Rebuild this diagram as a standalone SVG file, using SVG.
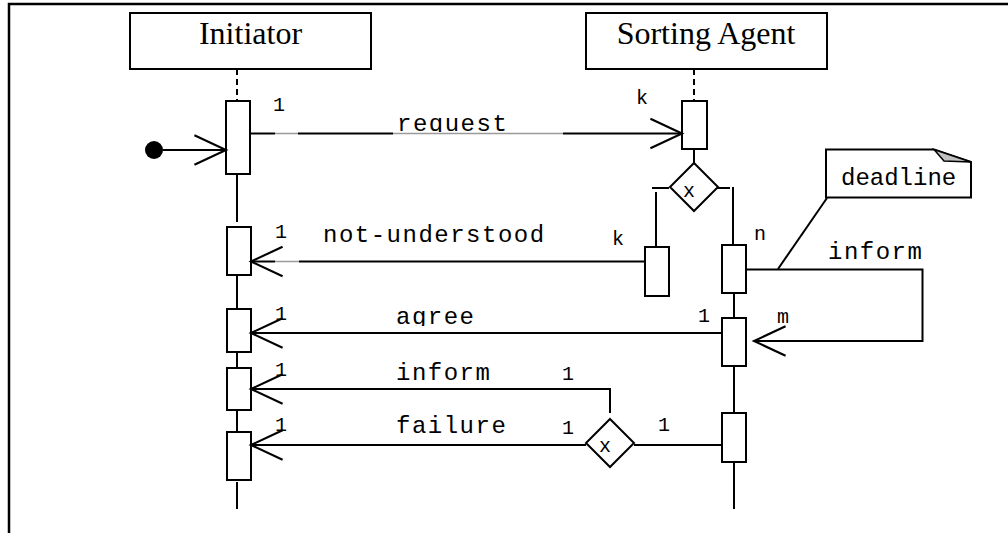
<svg xmlns="http://www.w3.org/2000/svg" width="1008" height="533" viewBox="0 0 1008 533">
<style>
.ln{stroke:#000;stroke-width:2;fill:none}
.gr{stroke:#9a9a9a;stroke-width:1.5;fill:none}
.box{stroke:#000;stroke-width:2;fill:#fff}
.act{stroke:#000;stroke-width:2;fill:#fff}
.dash{stroke:#000;stroke-width:2;stroke-dasharray:6 4;fill:none}
.hdr{font-family:"Liberation Serif","Times New Roman",serif;font-size:32px;fill:#000;text-anchor:middle}
.msg{font-family:"Liberation Mono","Courier New",monospace;font-size:24px;letter-spacing:1.5px;fill:#000}
.mul{font-family:"Liberation Mono","Courier New",monospace;font-size:20px;fill:#000}
</style>
<defs>
<marker id="open" markerUnits="userSpaceOnUse" markerWidth="40" markerHeight="40" viewBox="-34 -18 38 36" refX="0" refY="0" orient="auto">
<path d="M-30,-14 L0,0 L-30,14" fill="none" stroke="#000" stroke-width="2"/>
</marker>
<clipPath id="clipReq"><rect x="380" y="100" width="140" height="32"/></clipPath>
<clipPath id="clipAgr"><rect x="380" y="290" width="120" height="36"/></clipPath>
</defs>
<rect width="1008" height="533" fill="#fff"/>
<g id="frame">
<path d="M9,533 L9,4 L1008,4" stroke="#000" stroke-width="2.5" fill="none"/>
</g>
<g id="initiator">
<rect class="box" x="130" y="13" width="241" height="56"/>
<text class="hdr" x="250.5" y="44">Initiator</text>
<line class="dash" x1="237" y1="69" x2="237" y2="101"/>
<line class="ln" x1="237" y1="174" x2="237" y2="222"/>
<line class="ln" x1="237" y1="275" x2="237" y2="309"/>
<line class="ln" x1="237" y1="352" x2="237" y2="368"/>
<line class="ln" x1="237" y1="410" x2="237" y2="432"/>
<line class="ln" x1="237" y1="482" x2="237" y2="509"/>
<rect class="act" x="226" y="101" width="24" height="73"/>
<rect class="act" x="227" y="227" width="24" height="48"/>
<rect class="act" x="227" y="309" width="24" height="43"/>
<rect class="act" x="227" y="368" width="24" height="42"/>
<rect class="act" x="227" y="432" width="24" height="48"/>
</g>
<g id="sorting-agent">
<rect class="box" x="586" y="13" width="241" height="56"/>
<text class="hdr" x="706" y="44">Sorting Agent</text>
<line class="dash" x1="694" y1="69" x2="694" y2="101"/>
<line class="ln" x1="694" y1="149" x2="694" y2="163"/>
<line class="ln" x1="717" y1="188" x2="730" y2="188"/>
<line class="ln" x1="733" y1="187" x2="733" y2="245"/>
<line class="ln" x1="652" y1="188" x2="669" y2="188"/>
<line class="ln" x1="656" y1="192" x2="656" y2="247"/>
<line class="ln" x1="734" y1="293" x2="734" y2="318"/>
<line class="ln" x1="734" y1="366" x2="734" y2="413"/>
<line class="ln" x1="734" y1="462" x2="734" y2="509"/>
<rect class="act" x="682" y="101" width="25" height="48"/>
<rect class="act" x="645" y="247" width="24" height="49"/>
<rect class="act" x="722" y="245" width="24" height="48"/>
<rect class="act" x="722" y="318" width="24" height="48"/>
<rect class="act" x="722" y="413" width="24" height="49"/>
</g>
<g id="decision-1">
<polygon class="box" points="694,163 718,187 694,211 670,187"/>
<text class="mul" x="683" y="197">x</text>
</g>
<g id="decision-2">
<polygon class="box" points="610,419 634,443 610,467 586,443"/>
<text class="mul" x="599" y="452">x</text>
</g>
<g id="start">
<circle cx="154" cy="150" r="9" fill="#000"/>
</g>
<g id="note-deadline">
<path d="M826,149.5 L934,149.5 L971,162 L971,197.5 L826,197.5 Z" class="box"/>
<path d="M934,149.5 L944,161 L971,162 Z" fill="#c0c0c0" stroke="#000" stroke-width="1.5"/>
<text class="msg" style="letter-spacing:0" x="841" y="185">deadline</text>
</g>
<g id="connectors">
<line class="ln" x1="163" y1="150" x2="226" y2="150" marker-end="url(#open)"/>
<line class="ln" x1="250" y1="133.5" x2="275" y2="133.5"/>
<line class="gr" x1="275" y1="133.5" x2="298" y2="133.5"/>
<line class="ln" x1="298" y1="133.5" x2="393" y2="133.5"/>
<line class="gr" x1="393" y1="133.5" x2="563" y2="133.5"/>
<line class="ln" x1="563" y1="133.5" x2="682" y2="133.5" marker-end="url(#open)"/>
<line class="ln" x1="645" y1="261.5" x2="299" y2="261.5"/>
<line class="gr" x1="299" y1="261.5" x2="275" y2="261.5"/>
<line class="ln" x1="275" y1="261.5" x2="251" y2="261.5" marker-end="url(#open)"/>
<polyline class="ln" points="746,269.5 922.5,269.5 922.5,341 754,341" marker-end="url(#open)"/>
<line class="ln" x1="778" y1="269" x2="827" y2="198"/>
<line class="ln" x1="722" y1="333" x2="251" y2="333" marker-end="url(#open)"/>
<polyline class="ln" points="610,413 610,389 251,389" marker-end="url(#open)"/>
<line class="ln" x1="586" y1="445" x2="251" y2="445" marker-end="url(#open)"/>
<line class="ln" x1="634" y1="445" x2="722" y2="445"/>
</g>
<g id="labels">
<text class="msg" x="397" y="131" clip-path="url(#clipReq)">request</text>
<text class="msg" x="323" y="242">not-understood</text>
<text class="msg" x="396" y="324" clip-path="url(#clipAgr)">agree</text>
<text class="msg" x="396" y="380">inform</text>
<text class="msg" x="396" y="433">failure</text>
<text class="msg" x="828" y="259">inform</text>
<text class="mul" x="273" y="111">1</text>
<text class="mul" x="636" y="104">k</text>
<text class="mul" x="275" y="238">1</text>
<text class="mul" x="612" y="245">k</text>
<text class="mul" x="754" y="240">n</text>
<text class="mul" x="275" y="320">1</text>
<text class="mul" x="698" y="322">1</text>
<text class="mul" x="777" y="323">m</text>
<text class="mul" x="275" y="376">1</text>
<text class="mul" x="562" y="380">1</text>
<text class="mul" x="275" y="431">1</text>
<text class="mul" x="562" y="434">1</text>
<text class="mul" x="658" y="431">1</text>
</g>
</svg>
